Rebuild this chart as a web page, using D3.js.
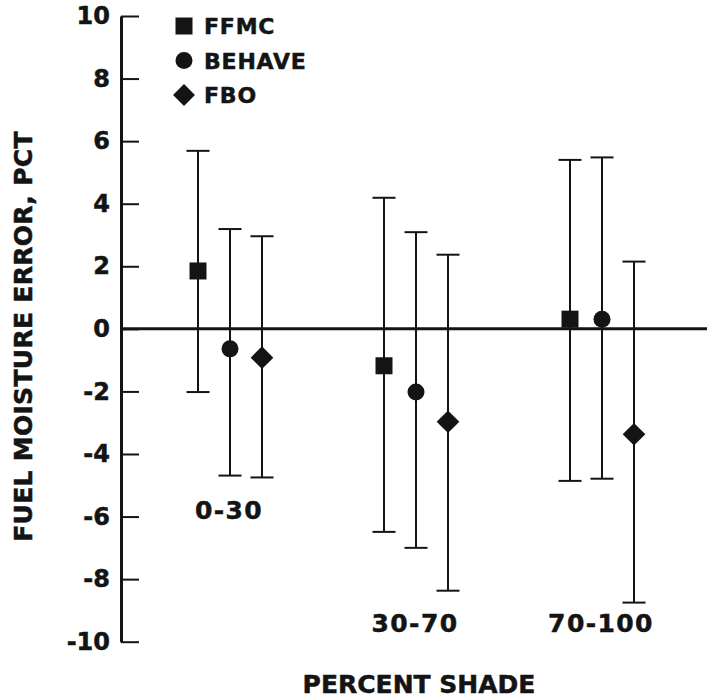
<!DOCTYPE html>
<html>
<head>
<meta charset="utf-8">
<script src="https://cdn.jsdelivr.net/npm/d3@7"></script>
<style>
  body { margin: 0; background: #fff; }
  text { font-family: "DejaVu Sans", sans-serif; font-weight: bold; fill: #141414;
         stroke: #141414; stroke-width: 0.5px; }
</style>
</head>
<body>
<svg width="707" height="700"></svg>
<script>
// shade classes and the three moisture models
const shadeClasses = ['0-30', '30-70', '70-100'];
const models = ['FFMC', 'BEHAVE', 'FBO'];
const yTicks = [-10, -8, -6, -4, -2, 0, 2, 4, 6, 8, 10];

// mean error and range ends, one value per shade class
const ffmcMean = [1.85, -1.18, 0.31];
const ffmcLow = [-2.02, -6.49, -4.86];
const ffmcHigh = [5.69, 4.19, 5.40];
const behaveMean = [-0.64, -2.02, 0.31];
const behaveLow = [-4.69, -7.0, -4.79];
const behaveHigh = [3.19, 3.09, 5.48];
const fboMean = [-0.92, -2.97, -3.37];
const fboLow = [-4.75, -8.37, -8.75];
const fboHigh = [2.96, 2.37, 2.15];

const INK = '#141414';

function main() {
    const svg = d3.select('svg');

    const y = d3.scaleLinear().domain([-10, 10]).range([641.7, 16]);
    const x = d3.scalePoint().domain(shadeClasses).range([230, 602]);
    const off = d3.scalePoint().domain(models).range([-32, 32]);

    const series = {
        FFMC: {mean: ffmcMean, low: ffmcLow, high: ffmcHigh},
        BEHAVE: {mean: behaveMean, low: behaveLow, high: behaveHigh},
        FBO: {mean: fboMean, low: fboLow, high: fboHigh}
    };
    const rows = [];
    models.forEach(m => shadeClasses.forEach((c, i) => {
        rows.push({model: m, shade: c, mean: series[m].mean[i],
                   low: series[m].low[i], high: series[m].high[i]});
    }));

    // zero line
    svg.append('line')
        .attr('x1', 121).attr('x2', 707)
        .attr('y1', y(0)).attr('y2', y(0))
        .attr('stroke', INK).attr('stroke-width', 3);

    // y axis, ticks point into the plot; plain hyphen for negatives
    const ax = svg.append('g').attr('transform', 'translate(121,0)')
        .call(d3.axisLeft(y).tickValues(yTicks).tickFormat(d => String(d))
              .tickSizeInner(-18).tickSizeOuter(0).tickPadding(11));
    ax.select('.domain').attr('stroke', INK).attr('stroke-width', 3);
    ax.selectAll('.tick line').attr('stroke', INK).attr('stroke-width', 2);
    ax.selectAll('.tick text').attr('font-size', 24)
        .attr('font-family', '"DejaVu Sans", sans-serif')
        .attr('font-weight', 'bold').attr('fill', INK);

    const px = d => x(d.shade) + off(d.model);

    // error bars
    const bars = svg.append('g').attr('stroke', INK).attr('stroke-width', 2);
    bars.selectAll('line.v').data(rows).enter().append('line').attr('class', 'v')
        .attr('x1', px).attr('x2', px)
        .attr('y1', d => y(d.high)).attr('y2', d => y(d.low));
    bars.selectAll('line.hi').data(rows).enter().append('line').attr('class', 'hi')
        .attr('x1', d => px(d) - 11.5).attr('x2', d => px(d) + 11.5)
        .attr('y1', d => y(d.high)).attr('y2', d => y(d.high));
    bars.selectAll('line.lo').data(rows).enter().append('line').attr('class', 'lo')
        .attr('x1', d => px(d) - 11.5).attr('x2', d => px(d) + 11.5)
        .attr('y1', d => y(d.low)).attr('y2', d => y(d.low));

    // markers
    const shape = {
        FFMC: d3.symbol().type(d3.symbolSquare).size(289)(),
        BEHAVE: d3.symbol().type(d3.symbolCircle).size(227)(),
        FBO: d3.symbol().type(d3.symbolSquare).size(256)()
    };
    const rot = m => m === 'FBO' ? ' rotate(45)' : '';
    svg.selectAll('path.mark').data(rows).enter().append('path').attr('class', 'mark')
        .attr('d', d => shape[d.model])
        .attr('transform', d => `translate(${px(d)},${y(d.mean)})${rot(d.model)}`)
        .attr('fill', INK);

    // shade class labels, under the lowest bar of each group
    svg.selectAll('text.cat').data(shadeClasses).enter().append('text').attr('class', 'cat')
        .attr('x', c => x(c) - 1)
        .attr('y', (c, i) => Math.min(
            y(Math.min(ffmcLow[i], behaveLow[i], fboLow[i])) + 41.5, y(-9.7)))
        .attr('text-anchor', 'middle').attr('font-size', 25)
        .attr('letter-spacing', 1.4).text(c => c);

    // legend
    const lg = svg.append('g');
    models.forEach((m, i) => {
        const cy = 26 + i * 34.5;
        lg.append('path')
            .attr('d', m === 'FBO' ? d3.symbol().type(d3.symbolSquare).size(240)() : shape[m])
            .attr('transform', `translate(184,${cy})${rot(m)}`)
            .attr('fill', INK);
        lg.append('text').attr('x', 204).attr('y', cy + 8)
            .attr('font-size', 22).attr('letter-spacing', 0.8).text(m);
    });

    // axis titles
    svg.append('text')
        .attr('transform', 'translate(32,336.5) rotate(-90)')
        .attr('text-anchor', 'middle').attr('font-size', 25)
        .attr('letter-spacing', 0.3).text('FUEL MOISTURE ERROR, PCT');
    svg.append('text')
        .attr('x', 419).attr('y', 693)
        .attr('text-anchor', 'middle').attr('font-size', 25)
        .text('PERCENT SHADE');
}

window.onload = main;
</script>
</body>
</html>
